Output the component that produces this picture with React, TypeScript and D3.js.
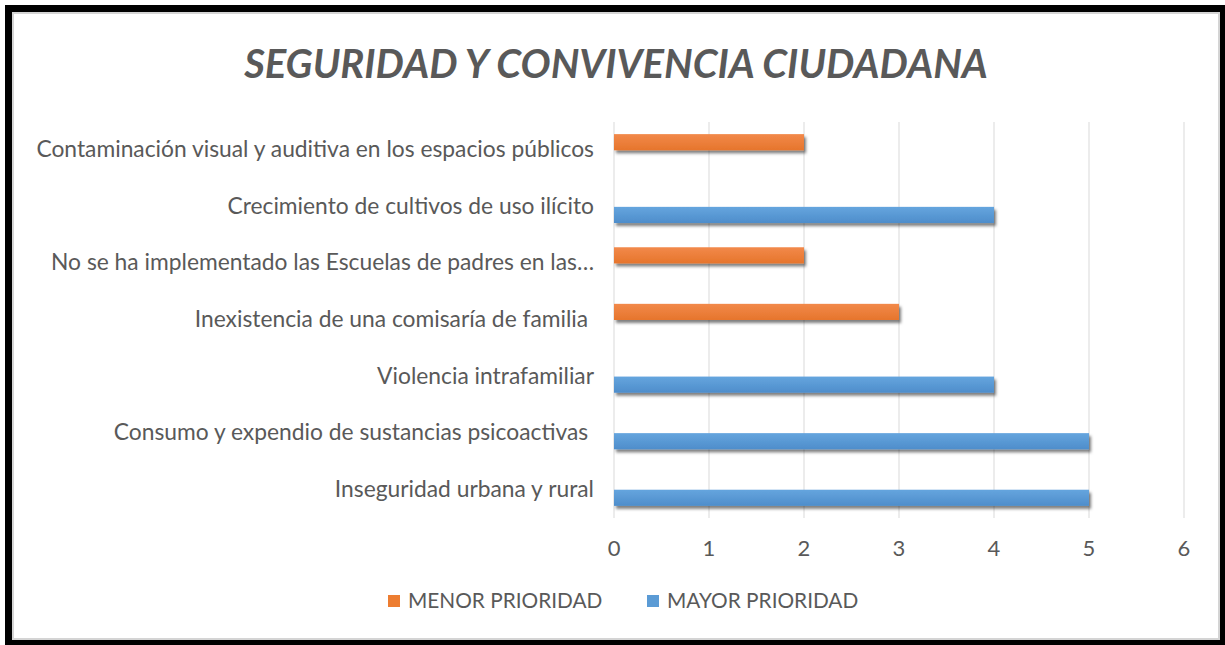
import React from 'react';
import { scaleBand, scaleLinear } from 'd3';

// chart data
const categories = [
  'Contaminación visual y auditiva en los espacios públicos',
  'Crecimiento de cultivos de uso ilícito',
  'No se ha implementado las Escuelas de padres en las…',
  'Inexistencia de una comisaría de familia ',
  'Violencia intrafamiliar',
  'Consumo y expendio de sustancias psicoactivas ',
  'Inseguridad urbana y rural',
];
const menorPrioridad = [2, 0, 2, 3, 0, 0, 0];
const mayorPrioridad = [0, 4, 0, 0, 4, 5, 5];
const seriesNames = ['MENOR PRIORIDAD', 'MAYOR PRIORIDAD'];
const xTicks = [0, 1, 2, 3, 4, 5, 6];

const title = 'SEGURIDAD Y CONVIVENCIA CIUDADANA';

const W = 1225;
const H = 645;
const margin = { top: 122, right: 41, bottom: 127, left: 614 };
const textColor = '#595959';
const font = 'Lato, "Open Sans", sans-serif';
const seriesColors = ['#ED7D31', '#5B9BD5'];

function App() {
  const innerW = W - margin.left - margin.right;
  const innerH = H - margin.top - margin.bottom;

  const x = scaleLinear().domain([0, 6]).range([0, innerW]);
  const y = scaleBand<string>().domain(categories).range([0, innerH]).padding(0);
  // gap width 150% -> outer padding .75 bar each side
  const ySub = scaleBand<number>().domain([0, 1]).range([0, y.bandwidth()]).paddingInner(0).paddingOuter(0.75);

  const values = [menorPrioridad, mayorPrioridad];

  return (
    <svg width={W} height={H} style={{ position: 'absolute', left: 0, top: 0, background: '#fff' }}>
      <defs>
        <filter id="shadow" x="-5%" y="-50%" width="115%" height="220%">
          <feDropShadow dx="2" dy="3" stdDeviation="1.6" floodColor="#000" floodOpacity="0.5" />
        </filter>
        <linearGradient id="g0" x1="0" y1="0" x2="0" y2="1">
          <stop offset="0" stopColor="#F2894A" />
          <stop offset="1" stopColor="#E6752C" />
        </linearGradient>
        <linearGradient id="g1" x1="0" y1="0" x2="0" y2="1">
          <stop offset="0" stopColor="#65A5DE" />
          <stop offset="1" stopColor="#4E8DCB" />
        </linearGradient>
      </defs>

      {/* frame */}
      <rect x={5} y={5} width={W} height={H} fill="#000" />
      <rect x={13} y={13} width={1206} height={626} fill="#fff" stroke="#d4d4d4" strokeWidth={2} />

      <text
        x={616}
        y={78}
        textAnchor="middle"
        fill={textColor}
        fontFamily={font}
        fontSize={40}
        fontWeight="bold"
        fontStyle="italic"
      >
        {title}
      </text>

      <g transform={`translate(${margin.left},${margin.top})`}>
        {/* gridlines */}
        {xTicks.map(t => (
          <line key={t} x1={x(t)} x2={x(t)} y1={0} y2={innerH} stroke="#d9d9d9" strokeWidth={1} />
        ))}

        {/* bars */}
        {values.map((vals, si) => (
          <g key={si} filter="url(#shadow)">
            {vals.map((v, i) =>
              v > 0 ? (
                <rect
                  key={i}
                  x={x(0)}
                  y={(y(categories[i]) ?? 0) + (ySub(si) ?? 0)}
                  width={x(v) - x(0)}
                  height={ySub.bandwidth()}
                  fill={`url(#g${si})`}
                />
              ) : null
            )}
          </g>
        ))}

        {/* category labels */}
        {categories.map(c => (
          <text
            key={c}
            x={-20}
            y={(y(c) ?? 0) + y.bandwidth() / 2 - 1}
            dy="0.35em"
            textAnchor="end"
            fill={textColor}
            fontFamily={font}
            fontSize={22.8}
            style={{ whiteSpace: 'pre' }}
          >
            {c}
          </text>
        ))}

        {/* x tick labels */}
        {xTicks.map(t => (
          <text
            key={t}
            x={x(t)}
            y={innerH + 30}
            dy="0.35em"
            textAnchor="middle"
            fill={textColor}
            fontFamily={font}
            fontSize={22}
          >
            {t}
          </text>
        ))}
      </g>

      {/* legend */}
      {seriesNames.map((s, i) => {
        const lx = [388, 647][i];
        return (
          <g key={s} transform={`translate(${lx},601)`}>
            <rect x={0} y={-6} width={12} height={12} fill={seriesColors[i]} />
            <text x={20} y={0} dy="0.35em" fill={textColor} fontFamily={font} fontSize={20.8}>
              {s}
            </text>
          </g>
        );
      })}
    </svg>
  );
}

export default App;
